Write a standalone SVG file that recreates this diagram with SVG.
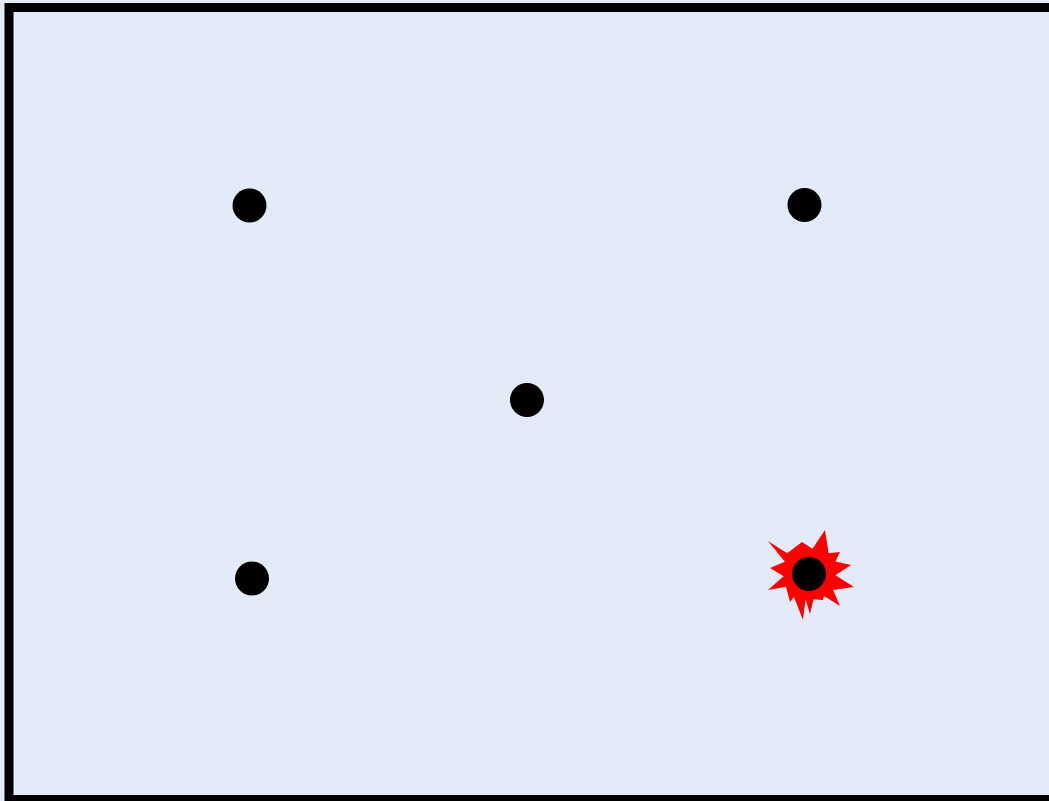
<svg xmlns="http://www.w3.org/2000/svg" width="1049" height="801" viewBox="0 0 1049 801">
<style>
.dot{fill:#000}
</style>
<rect x="0" y="0" width="1049" height="801" fill="#e4ebf8"/>
<rect x="9" y="7.5" width="1060" height="792" fill="#e4ebf8" stroke="#000" stroke-width="9"/>
<g id="burst">
<polygon fill="#ff0000" points="768,541 787.2,553.3 802,542 812.5,548.7 825,530 828.6,553.3 840,552 835.5,561.4 851,565 835.5,575.2 854,587 833.2,590.1 840,606 824,595.9 823,600 813.6,599.3 810,614 805.6,599.3 803,620 794,597 790,602 786,586.7 768,590 783.7,576.3 770,568 784.9,561.7"/>
</g>
<g id="n1"><circle class="dot" cx="249.5" cy="205.5" r="17"/></g>
<g id="n2"><circle class="dot" cx="804.5" cy="205" r="17"/></g>
<g id="n3"><circle class="dot" cx="527" cy="400" r="17"/></g>
<g id="n4"><circle class="dot" cx="252" cy="578.5" r="17"/></g>
<g id="n5"><circle class="dot" cx="809" cy="574" r="17"/></g>
<g id="connectors"></g>
</svg>
